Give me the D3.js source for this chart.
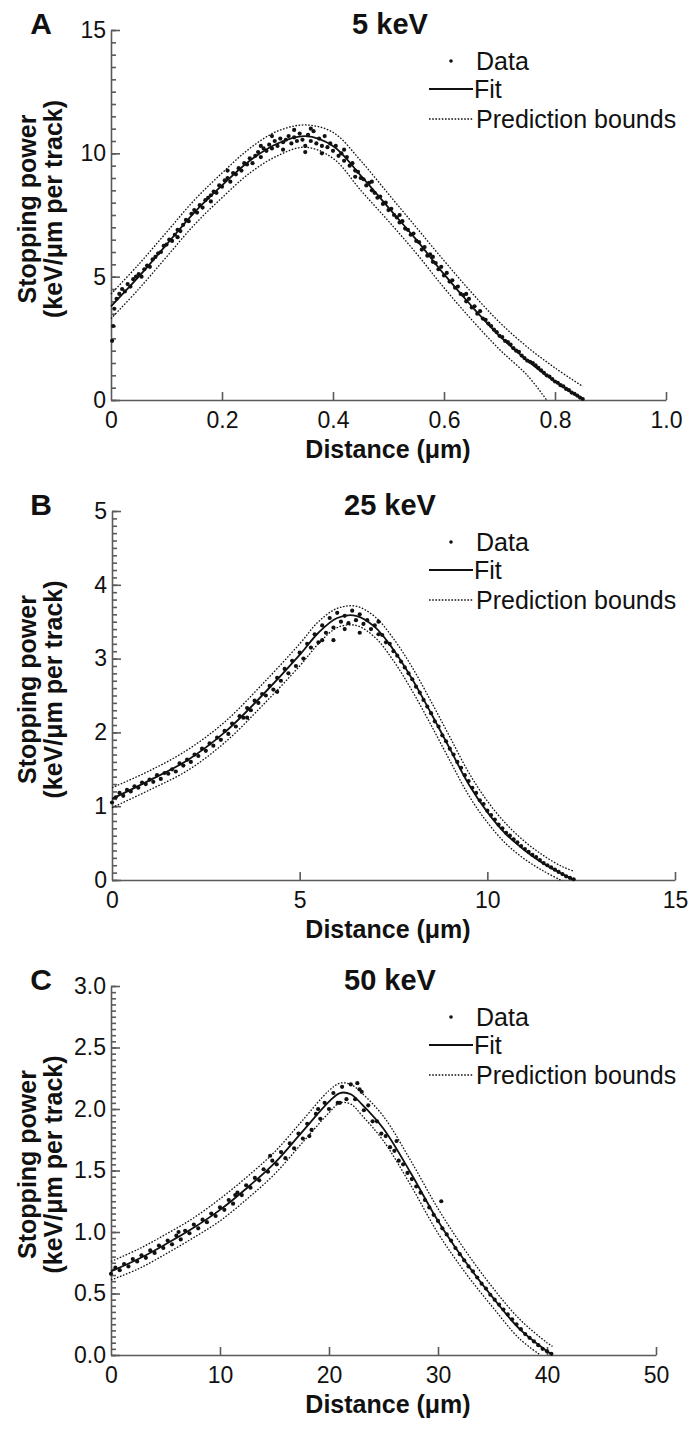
<!DOCTYPE html>
<html>
<head>
<meta charset="utf-8">
<script src="https://cdn.jsdelivr.net/npm/d3@7"></script>
<style>
  body { margin: 0; background: #fff; }
  text { font-family: "Liberation Sans", Arial, sans-serif; fill: #111; }
  .tick text { font-size: 23px; }
  .axis path, .axis line { stroke: #5a5a5a; stroke-width: 1.6px; }
</style>
</head>
<body>
<div id="chart"></div>
<script>
// panel labels / titles / axes
const letters = ["A", "B", "C"];
const titles = ["5 keV", "25 keV", "50 keV"];
const xMax = [1.0, 15, 50];
const yMax = [15, 5, 3.0];
const xTickVals = [[0, 0.2, 0.4, 0.6, 0.8, 1.0], [0, 5, 10, 15], [0, 10, 20, 30, 40, 50]];
const yMajorVals = [[0, 5, 10, 15], [0, 1, 2, 3, 4, 5], [0, 0.5, 1.0, 1.5, 2.0, 2.5, 3.0]];
const yMinorStep = [0.5, 0.1, 0.05];
const legendLabels = ["Data", "Fit", "Prediction bounds"];

// 5 keV
const dataA = [[0.002,2.4],[0.004,3.0],[0.006,3.7],[0.01,4.1],[0.015,4.3],[0.02,4.5],[0.025,4.4],[0.03,4.7],[0.035,4.6],[0.04,4.9],[0.045,5.0],[0.05,5.1],[0.055,5.0],[0.06,5.3],[0.065,5.45],[0.07,5.4],[0.075,5.7],[0.08,5.8],[0.085,5.95],[0.09,6.0],[0.095,6.25],[0.10,6.3],[0.105,6.5],[0.11,6.45],[0.115,6.7],[0.12,6.9],[0.125,6.85],[0.13,7.1],[0.135,7.3],[0.14,7.25],[0.145,7.55],[0.15,7.7],[0.155,7.6],[0.16,7.9],[0.165,7.8],[0.17,8.1],[0.175,8.2],[0.18,8.3],[0.185,8.45],[0.19,8.4],[0.195,8.7],[0.20,8.65],[0.205,8.9],[0.21,9.0],[0.215,8.85],[0.22,9.2],[0.225,9.15],[0.23,9.4],[0.235,9.3],[0.24,9.6],[0.245,9.55],[0.25,9.8],[0.255,9.6],[0.26,9.9],[0.265,10.05],[0.27,9.85],[0.275,10.2],[0.28,10.1],[0.285,10.35],[0.29,10.2],[0.295,10.5],[0.30,10.3],[0.305,10.6],[0.31,10.45],[0.315,10.55],[0.32,10.7],[0.325,10.4],[0.33,10.65],[0.335,10.5],[0.34,10.8],[0.345,10.55],[0.35,10.3],[0.355,10.75],[0.36,10.5],[0.365,10.9],[0.37,10.4],[0.375,10.6],[0.38,10.3],[0.385,10.7],[0.39,10.25],[0.395,10.4],[0.40,10.1],[0.405,10.3],[0.41,9.9],[0.415,10.0],[0.42,9.7],[0.425,9.85],[0.43,9.5],[0.435,9.6],[0.44,9.3],[0.445,9.25],[0.45,9.0],[0.455,8.95],[0.46,8.7],[0.465,8.8],[0.47,8.5],[0.475,8.4],[0.48,8.2],[0.485,8.25],[0.49,7.95],[0.495,8.0],[0.50,7.7],[0.505,7.75],[0.51,7.5],[0.515,7.4],[0.52,7.2],[0.525,7.25],[0.53,6.95],[0.535,6.9],[0.54,6.7],[0.545,6.75],[0.55,6.45],[0.555,6.4],[0.56,6.1],[0.565,6.2],[0.57,5.85],[0.575,5.9],[0.58,5.6],[0.585,5.55],[0.59,5.3],[0.595,5.4],[0.60,5.05],[0.605,5.15],[0.61,4.8],[0.615,4.85],[0.62,4.55],[0.625,4.6],[0.63,4.3],[0.635,4.25],[0.64,4.0],[0.645,4.1],[0.65,3.75],[0.655,3.8],[0.66,3.5],[0.665,3.6],[0.67,3.3],[0.675,3.25],[0.68,3.1],[0.685,3.0],[0.69,2.85],[0.695,2.75],[0.70,2.6],[0.705,2.55],[0.71,2.4],[0.715,2.35],[0.72,2.25],[0.725,2.1],[0.73,2.0],[0.735,1.95],[0.74,1.8],[0.745,1.7],[0.75,1.6],[0.755,1.55],[0.76,1.5],[0.765,1.4],[0.77,1.3],[0.775,1.2],[0.78,1.1],[0.785,1.0],[0.79,0.95],[0.795,0.85],[0.80,0.75],[0.805,0.7],[0.81,0.6],[0.815,0.55],[0.82,0.45],[0.825,0.4],[0.83,0.3],[0.835,0.25],[0.84,0.18],[0.845,0.1],[0.85,0.04],
  [0.21,9.3],[0.27,10.3],[0.29,10.7],[0.31,10.15],[0.33,10.95],[0.35,10.05],[0.36,11.0],[0.38,10.0],[0.42,10.15],[0.44,9.05],[0.47,8.85],[0.52,7.5],[0.58,5.8],[0.64,4.3],[0.12,6.6],[0.18,8.05]];
const fitA = [[0,3.8],[0.05,5.0],[0.1,6.3],[0.15,7.6],[0.2,8.7],[0.25,9.7],[0.3,10.4],[0.35,10.7],[0.4,10.3],[0.45,9.1],[0.5,7.8],[0.55,6.5],[0.6,5.1],[0.65,3.8],[0.7,2.6],[0.75,1.6],[0.8,0.75],[0.85,0.05]];
const upperA = [[0,4.3],[0.05,5.5],[0.1,6.8],[0.15,8.1],[0.2,9.2],[0.25,10.2],[0.3,10.9],[0.35,11.15],[0.4,10.85],[0.45,9.7],[0.5,8.35],[0.55,7.0],[0.6,5.65],[0.65,4.35],[0.7,3.15],[0.75,2.15],[0.8,1.3],[0.85,0.55]];
const lowerA = [[0,3.3],[0.05,4.5],[0.1,5.8],[0.15,7.1],[0.2,8.2],[0.25,9.2],[0.3,9.9],[0.35,10.25],[0.4,9.8],[0.45,8.5],[0.5,7.25],[0.55,5.95],[0.6,4.55],[0.65,3.25],[0.7,2.05],[0.75,1.0],[0.785,0]];

// 25 keV
const dataB = [[0.0,1.05],[0.1,1.12],[0.2,1.18],[0.3,1.14],[0.4,1.22],[0.5,1.2],[0.6,1.27],[0.7,1.25],[0.8,1.32],[0.9,1.30],[1.0,1.36],[1.1,1.33],[1.2,1.42],[1.3,1.37],[1.4,1.45],[1.5,1.44],[1.6,1.5],[1.7,1.47],[1.8,1.58],[1.9,1.55],[2.0,1.63],[2.1,1.6],[2.2,1.7],[2.3,1.68],[2.4,1.78],[2.5,1.75],[2.6,1.85],[2.7,1.82],[2.8,1.93],[2.9,1.9],[3.0,2.02],[3.1,1.98],[3.2,2.12],[3.3,2.08],[3.4,2.22],[3.5,2.2],[3.6,2.33],[3.7,2.3],[3.8,2.43],[3.9,2.4],[4.0,2.52],[4.1,2.5],[4.2,2.63],[4.3,2.58],[4.4,2.74],[4.5,2.7],[4.6,2.86],[4.7,2.8],[4.8,2.97],[4.9,2.9],[5.0,3.08],[5.1,3.0],[5.2,3.2],[5.3,3.15],[5.4,3.33],[5.5,3.22],[5.6,3.45],[5.7,3.35],[5.8,3.55],[5.9,3.42],[6.0,3.62],[6.1,3.5],[6.2,3.58],[6.3,3.48],[6.4,3.65],[6.5,3.52],[6.6,3.6],[6.7,3.47],[6.8,3.52],[6.9,3.4],[7.0,3.45],[7.1,3.33],[7.2,3.32],[7.3,3.22],[7.4,3.2],[7.5,3.1],[7.6,3.04],[7.7,2.96],[7.8,2.88],[7.9,2.8],[8.0,2.72],[8.1,2.62],[8.2,2.54],[8.3,2.44],[8.4,2.35],[8.5,2.26],[8.6,2.15],[8.7,2.08],[8.8,1.96],[8.9,1.88],[9.0,1.78],[9.1,1.7],[9.2,1.6],[9.3,1.52],[9.4,1.42],[9.5,1.34],[9.6,1.25],[9.7,1.18],[9.8,1.08],[9.9,1.03],[10.0,0.94],[10.1,0.88],[10.2,0.82],[10.3,0.75],[10.4,0.7],[10.5,0.64],[10.6,0.6],[10.7,0.55],[10.8,0.51],[10.9,0.46],[11.0,0.42],[11.1,0.38],[11.2,0.34],[11.3,0.31],[11.4,0.27],[11.5,0.23],[11.6,0.2],[11.7,0.17],[11.8,0.14],[11.9,0.11],[12.0,0.08],[12.1,0.05],[12.2,0.03],[12.3,0.01],
  [5.9,3.25],[6.2,3.4],[6.6,3.35],[7.1,3.5],[3.6,2.2],[4.4,2.55],[5.6,3.25]];
const fitB = [[0,1.1],[1,1.35],[2,1.62],[3,2.0],[4,2.5],[5,3.05],[5.5,3.35],[6,3.55],[6.5,3.58],[7,3.43],[7.5,3.12],[8,2.72],[8.5,2.26],[9,1.78],[9.5,1.3],[10,0.92],[10.5,0.62],[11,0.4],[11.5,0.22],[12,0.08],[12.3,0.0]];
const upperB = [[0,1.25],[1,1.48],[2,1.76],[3,2.14],[4,2.65],[5,3.2],[5.5,3.5],[6,3.68],[6.5,3.71],[7,3.57],[7.5,3.27],[8,2.88],[8.5,2.42],[9,1.94],[9.5,1.46],[10,1.07],[10.5,0.76],[11,0.52],[11.5,0.33],[12,0.18],[12.3,0.12]];
const lowerB = [[0,0.98],[1,1.22],[2,1.48],[3,1.86],[4,2.36],[5,2.9],[5.5,3.2],[6,3.42],[6.5,3.45],[7,3.29],[7.5,2.97],[8,2.56],[8.5,2.1],[9,1.62],[9.5,1.15],[10,0.78],[10.5,0.49],[11,0.28],[11.5,0.12],[11.95,0]];

// 50 keV
const dataC = [[0.0,0.66],[0.4,0.71],[0.8,0.69],[1.2,0.74],[1.6,0.72],[2.0,0.78],[2.4,0.76],[2.8,0.81],[3.2,0.79],[3.6,0.85],[4.0,0.83],[4.4,0.89],[4.8,0.87],[5.2,0.93],[5.6,0.9],[6.0,0.97],[6.4,0.94],[6.8,1.01],[7.2,0.99],[7.6,1.06],[8.0,1.03],[8.4,1.1],[8.8,1.08],[9.2,1.15],[9.6,1.13],[10.0,1.2],[10.4,1.18],[10.8,1.26],[11.2,1.23],[11.6,1.32],[12.0,1.3],[12.4,1.38],[12.8,1.36],[13.2,1.44],[13.6,1.42],[14.0,1.51],[14.4,1.49],[14.8,1.58],[15.2,1.55],[15.6,1.65],[16.0,1.6],[16.4,1.72],[16.8,1.68],[17.2,1.8],[17.6,1.76],[18.0,1.88],[18.4,1.83],[18.8,1.96],[19.2,1.92],[19.6,2.05],[20.0,2.0],[20.4,2.13],[20.8,2.05],[21.2,2.18],[21.6,2.08],[22.0,2.2],[22.4,2.08],[22.8,2.16],[23.2,1.99],[23.6,2.03],[24.0,1.9],[24.4,1.9],[24.8,1.8],[25.2,1.78],[25.6,1.69],[26.0,1.66],[26.4,1.58],[26.8,1.55],[27.2,1.48],[27.6,1.43],[28.0,1.37],[28.4,1.32],[28.8,1.26],[29.2,1.2],[29.6,1.14],[30.0,1.09],[30.3,1.25],[30.4,1.03],[30.8,0.98],[31.2,0.93],[31.6,0.87],[32.0,0.82],[32.4,0.77],[32.8,0.72],[33.2,0.68],[33.6,0.63],[34.0,0.58],[34.4,0.54],[34.8,0.49],[35.2,0.45],[35.6,0.41],[36.0,0.37],[36.4,0.33],[36.8,0.29],[37.2,0.25],[37.6,0.21],[38.0,0.17],[38.4,0.14],[38.8,0.11],[39.2,0.08],[39.6,0.05],[40.0,0.03],[40.4,0.01],
  [14.6,1.62],[18.2,1.78],[21.0,2.05],[22.6,2.21],[23.0,2.14],[19.0,2.0],[26.2,1.74],[11.4,1.3],[6.2,1.0]];
const fitC = [[0,0.68],[2.5,0.78],[5,0.9],[7.5,1.03],[10,1.18],[12.5,1.36],[15,1.56],[17.5,1.81],[20,2.06],[21,2.13],[22,2.12],[23,2.04],[25,1.84],[27.5,1.48],[30,1.09],[32.5,0.76],[35,0.47],[37.5,0.21],[40,0.03],[40.5,0]];
const upperC = [[0,0.76],[2.5,0.86],[5,0.98],[7.5,1.11],[10,1.27],[12.5,1.45],[15,1.65],[17.5,1.9],[20,2.15],[21,2.21],[22,2.2],[23,2.13],[25,1.94],[27.5,1.58],[30,1.19],[32.5,0.85],[35,0.55],[37.5,0.29],[40,0.1],[40.5,0.07]];
const lowerC = [[0,0.61],[2.5,0.7],[5,0.82],[7.5,0.95],[10,1.09],[12.5,1.27],[15,1.47],[17.5,1.72],[20,1.97],[21,2.05],[22,2.04],[23,1.95],[25,1.74],[27.5,1.38],[30,0.99],[32.5,0.67],[35,0.39],[37.5,0.13],[39.4,0]];

const series = [
  {data: dataA, fit: fitA, upper: upperA, lower: lowerA},
  {data: dataB, fit: fitB, upper: upperB, lower: lowerB},
  {data: dataC, fit: fitC, upper: upperC, lower: lowerC}
];

const W = 691, H = 1431;
const tops = [30, 511, 986], bottoms = [400, 880, 1355];
const lefts = [111, 112, 111], rights = [666, 675, 656];

const svg = d3.select("#chart").append("svg")
  .attr("width", W).attr("height", H);

const xFmt = [d => d === 0 ? "0" : d3.format(".1f")(d), d3.format("d"), d3.format("d")];
const yFmt = [d3.format("d"), d3.format("d"), d3.format(".1f")];

series.forEach((s, i) => {
  let g = svg.append("g");
  let x = d3.scaleLinear().domain([0, xMax[i]]).range([lefts[i], rights[i]]);
  let y = d3.scaleLinear().domain([0, yMax[i]]).range([bottoms[i], tops[i]]);

  // minor ticks on the y axis (inside)
  let minor = d3.range(0, yMax[i] + 1e-9, yMinorStep[i]);
  g.append("g").attr("class", "axis")
    .attr("transform", `translate(${lefts[i]},0)`)
    .call(d3.axisRight(y).tickValues(minor).tickSize(5).tickFormat(""))
    .call(a => a.select(".domain").remove());

  // major y ticks + labels
  let yAx = g.append("g").attr("class", "axis")
    .attr("transform", `translate(${lefts[i]},0)`)
    .call(d3.axisLeft(y).tickValues(yMajorVals[i]).tickSizeInner(-9).tickSizeOuter(0).tickPadding(6).tickFormat(yFmt[i]));
  yAx.selectAll(".tick text").attr("x", -5);

  // x axis, ticks pointing up
  let xAx = g.append("g").attr("class", "axis")
    .attr("transform", `translate(0,${bottoms[i]})`)
    .call(d3.axisBottom(x).tickValues(xTickVals[i]).tickSizeInner(-8).tickSizeOuter(0).tickFormat(xFmt[i]));
  xAx.selectAll(".tick text").attr("y", 12);
  xAx.selectAll(".tick line").filter(d => d === 0).remove();

  let line = d3.line().x(d => x(d[0])).y(d => y(d[1])).curve(d3.curveCatmullRom.alpha(0.5));

  g.append("path").datum(s.upper).attr("d", line)
    .attr("fill", "none").attr("stroke", "#111").attr("stroke-width", 1.3).attr("stroke-dasharray", "1.6,1.6");
  g.append("path").datum(s.lower).attr("d", line)
    .attr("fill", "none").attr("stroke", "#111").attr("stroke-width", 1.3).attr("stroke-dasharray", "1.6,1.6");

  g.selectAll("circle.pt").data(s.data).enter().append("circle")
    .attr("class", "pt")
    .attr("cx", d => x(d[0])).attr("cy", d => y(d[1]))
    .attr("r", 2.1).attr("fill", "#111");

  g.append("path").datum(s.fit).attr("d", line)
    .attr("fill", "none").attr("stroke", "#111").attr("stroke-width", 1.8);

  // panel letter and title
  g.append("text").attr("x", 41).attr("y", tops[i] + 4)
    .attr("text-anchor", "middle").style("font-size", "30px").style("font-weight", "bold")
    .text(letters[i]);
  g.append("text").attr("x", 390).attr("y", tops[i] + 4)
    .attr("text-anchor", "middle").style("font-size", "29px").style("font-weight", "bold")
    .text(titles[i]);

  // axis titles
  g.append("text").attr("x", 388).attr("y", bottoms[i] + 58)
    .attr("text-anchor", "middle").style("font-size", "25px").style("font-weight", "bold")
    .text("Distance (μm)");
  let yc = (tops[i] + bottoms[i]) / 2 - 6;
  g.append("text").attr("transform", `translate(36,${yc})rotate(-90)`)
    .attr("text-anchor", "middle").style("font-size", "25px").style("font-weight", "bold")
    .text("Stopping power");
  g.append("text").attr("transform", `translate(62,${yc})rotate(-90)`)
    .attr("text-anchor", "middle").style("font-size", "25px").style("font-weight", "bold")
    .text("(keV/μm per track)");

  // legend
  let lg = g.append("g").attr("transform", `translate(0,${tops[i]})`);
  lg.append("circle").attr("cx", 451).attr("cy", 31).attr("r", 1.8).attr("fill", "#111");
  lg.append("line").attr("x1", 429).attr("x2", 473).attr("y1", 59).attr("y2", 59)
    .attr("stroke", "#111").attr("stroke-width", 1.8);
  lg.append("line").attr("x1", 429).attr("x2", 473).attr("y1", 89).attr("y2", 89)
    .attr("stroke", "#111").attr("stroke-width", 1.3).attr("stroke-dasharray", "1.6,1.6");
  lg.selectAll("text.leg").data(legendLabels).enter().append("text")
    .attr("class", "leg")
    .attr("x", (d, j) => j === 1 ? 474 : 476)
    .attr("y", (d, j) => [31, 59, 89][j] + 9)
    .style("font-size", "25px")
    .text(d => d);
});
</script>
</body>
</html>
